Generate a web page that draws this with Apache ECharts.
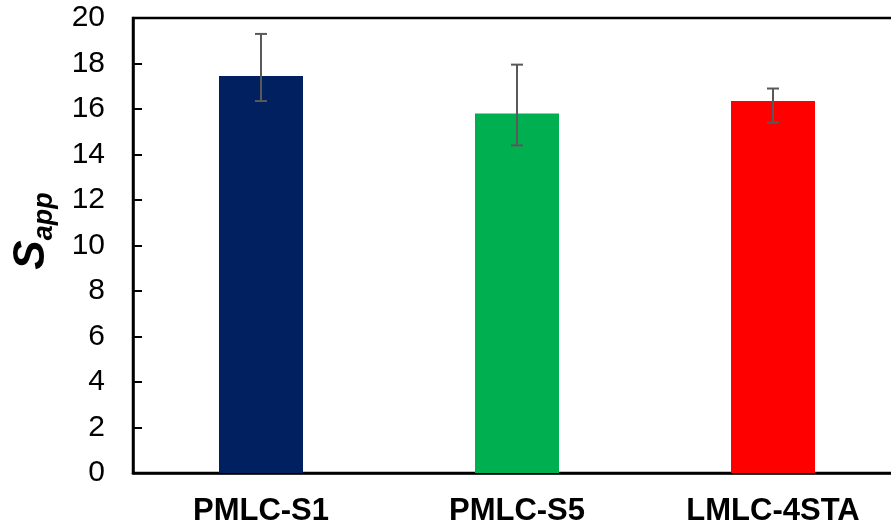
<!DOCTYPE html>
<html>
<head>
<meta charset="utf-8">
<script src="https://cdn.jsdelivr.net/npm/echarts@6/dist/echarts.min.js"></script>
<style>html,body{margin:0;padding:0;background:#fff;}#c{width:891px;height:531px;}</style>
</head>
<body>
<div id="c"></div>
<script>
const categories = ['PMLC-S1', 'PMLC-S5', 'LMLC-4STA'];
const values = [17.45, 15.8, 16.35];
const errLow = [16.35, 14.4, 15.4];
const errHigh = [19.3, 17.95, 16.9];
const barColors = ['#002060', '#00B050', '#FF0000'];
const yTicks = { min: 0, max: 20, interval: 2 };

const chart = echarts.init(document.getElementById('c'));
const font = '"Liberation Sans", Arial, sans-serif';
chart.setOption({
  animation: false,
  backgroundColor: '#fff',
  grid: { left: 133, top: 18, width: 768, bottom: 58, outerBoundsMode: 'none', containLabel: false, show: true, borderColor: '#000', borderWidth: 2.5, backgroundColor: 'transparent' },
  xAxis: {
    type: 'category', data: categories,
    axisLine: { lineStyle: { color: '#000', width: 2.5 } },
    axisTick: { show: true, inside: true, length: 8, alignWithLabel: true, lineStyle: { color: '#000', width: 2 } },
    axisLabel: { color: '#000', fontFamily: font, fontSize: 31, fontWeight: 'bold', margin: 23 }
  },
  yAxis: {
    type: 'value', min: yTicks.min, max: yTicks.max, interval: yTicks.interval,
    splitLine: { show: false },
    axisLine: { show: true, lineStyle: { color: '#000', width: 2.5 } },
    axisTick: { show: true, inside: true, length: 9, lineStyle: { color: '#000', width: 2 } },
    axisLabel: { color: '#000', fontFamily: font, fontSize: 30, margin: 28 }
  },
  graphic: [{
    type: 'text', x: 32, y: 231, rotation: Math.PI / 2,
    style: {
      text: '{s|S}{sub|app}', align: 'center', verticalAlign: 'middle',
      rich: {
        s: { fontFamily: font, fontSize: 44, fontWeight: 'bold', fontStyle: 'italic', fill: '#000', verticalAlign: 'bottom', lineHeight: 44 },
        sub: { fontFamily: font, fontSize: 27, fontWeight: 'bold', fontStyle: 'italic', fill: '#000', verticalAlign: 'bottom', lineHeight: 44, padding: [0, 0, -4, 0] }
      }
    }
  }],
  series: [{
    type: 'bar', barWidth: 84,
    data: values.map((v, i) => ({ value: v, itemStyle: { color: barColors[i] } }))
  }, {
    type: 'custom',
    data: categories.map((c, i) => [i, errLow[i], errHigh[i]]),
    renderItem: function (params, api) {
      const lo = api.coord([api.value(0), api.value(1)]);
      const hi = api.coord([api.value(0), api.value(2)]);
      const w = 6;
      const st = { stroke: '#595959', lineWidth: 2 };
      return { type: 'group', children: [
        { type: 'line', shape: { x1: hi[0], y1: hi[1], x2: lo[0], y2: lo[1] }, style: st },
        { type: 'line', shape: { x1: hi[0] - w, y1: hi[1], x2: hi[0] + w, y2: hi[1] }, style: st },
        { type: 'line', shape: { x1: lo[0] - w, y1: lo[1], x2: lo[0] + w, y2: lo[1] }, style: st }
      ]};
    },
    z: 5
  }]
});
</script>
</body>
</html>
